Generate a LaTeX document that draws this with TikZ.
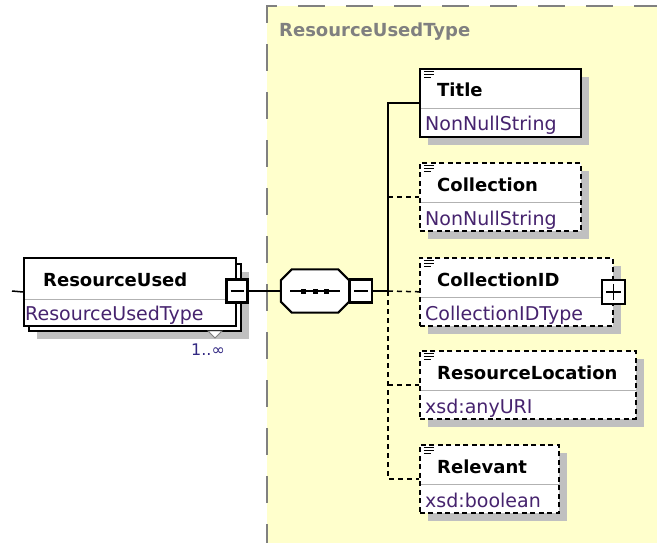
\documentclass[tikz,border=0pt]{standalone}
\usepackage{fontspec}
\setmainfont{DejaVu Sans}
\usetikzlibrary{calc,shadows}
\definecolor{typebg}{RGB}{255,255,204}
\definecolor{shadowgray}{RGB}{192,192,192}
\definecolor{typetext}{RGB}{70,35,110}
\definecolor{occurtext}{RGB}{50,40,130}

\begin{document}
\begin{tikzpicture}[x=1pt,y=-1pt,
  box/.style={draw,line width=2pt,fill=white,anchor=north west,minimum height=68pt,inner sep=0pt},
  shadowed/.style={drop shadow={shadow xshift=8pt,shadow yshift=-8pt,fill=shadowgray,opacity=1}},
  elem/.style={box,shadowed,path picture={
    \draw[solid,gray!60,line width=1pt] ($(path picture bounding box.north west)+(0,40)$) -- ($(path picture bounding box.north east)+(0,40)$);
    \draw[solid,line width=1pt] ($(path picture bounding box.north west)+(4,3)$) -- +(10,0)
      ($(path picture bounding box.north west)+(4,6)$) -- +(10,0)
      ($(path picture bounding box.north west)+(4,9)$) -- +(7,0);}},
  optelem/.style={elem,line width=1.6pt,dash pattern=on 5pt off 3.5pt},
  ename/.style={anchor=base west,inner sep=0pt,font=\fontsize{18}{20}\selectfont\bfseries},
  etype/.style={anchor=base west,inner sep=0pt,text=typetext,font=\fontsize{19}{21}\selectfont},
  conn/.style={line width=1.5pt},
  optconn/.style={conn,dash pattern=on 5pt off 4pt},
  togglebox/.style={draw,fill=white,line width=2.2pt,minimum width=21pt,minimum height=23pt,inner sep=0pt},
  minusbox/.style={togglebox,path picture={
    \draw[line width=1.4pt] ($(path picture bounding box.west)+(4,0)$) -- ($(path picture bounding box.east)+(-4,0)$);}},
  plusbox/.style={togglebox,path picture={
    \draw[line width=1.4pt] ($(path picture bounding box.west)+(4,0)$) -- ($(path picture bounding box.east)+(-4,0)$)
      ($(path picture bounding box.north)+(0,4)$) -- ($(path picture bounding box.south)+(0,-4)$);}},
]
\useasboundingbox (0,0) rectangle (657,543);

% complex type area
\fill[typebg] (267,6) rectangle (657,543);
\draw[gray,line width=2pt,dash pattern=on 27pt off 21pt,dash phase=8pt] (267,543) -- (267,6) -- (657,6);
\node[anchor=base west,inner sep=0pt,text=gray,font=\fontsize{18}{20}\selectfont\bfseries] (typename) at (279,37) {ResourceUsedType};

% repeated element
\node[box,shadowed,minimum width=212pt,minimum height=67pt] (ruback) at (28,263) {};
\filldraw[fill=white,draw=gray,line width=0.8pt] (208,331) -- (222,331) -- (215,338) -- cycle;
\node[box,minimum width=212pt,path picture={
  \draw[gray!60,line width=1pt] ($(path picture bounding box.north west)+(0,41)$) -- ($(path picture bounding box.north east)+(0,41)$);}] (ru) at (23,257) {};
\node[ename] (runame) at ($(ru.north west)+(20,29)$) {ResourceUsed};
\node[etype] (rutype) at ($(ru.north west)+(2,63)$) {ResourceUsedType};
\node[minusbox] (rumin) at (237,291) {};
\node[text=occurtext,font=\fontsize{16}{18}\selectfont] (occurs) at (208,350) {1..∞};

% sequence
\node[minimum width=68pt,minimum height=43pt,inner sep=0pt] (seq) at (315,291) {};
\fill[shadowgray,shift={(8,8)}] ($(seq.north west)+(11,0)$) -- ($(seq.north east)+(-11,0)$) -- ($(seq.north east)+(0,11)$)
  -- ($(seq.south east)+(0,-11)$) -- ($(seq.south east)+(-11,0)$) -- ($(seq.south west)+(11,0)$)
  -- ($(seq.south west)+(0,-11)$) -- ($(seq.north west)+(0,11)$) -- cycle;
\filldraw[fill=white,line width=2pt] ($(seq.north west)+(11,0)$) -- ($(seq.north east)+(-11,0)$) -- ($(seq.north east)+(0,11)$)
  -- ($(seq.south east)+(0,-11)$) -- ($(seq.south east)+(-11,0)$) -- ($(seq.south west)+(11,0)$)
  -- ($(seq.south west)+(0,-11)$) -- ($(seq.north west)+(0,11)$) -- cycle;
\draw[line width=1.4pt] ($(seq.center)+(-25,0)$) -- ($(seq.center)+(25,0)$);
\fill ($(seq.center)+(-14,-2.5)$) rectangle +(5,5);
\fill ($(seq.center)+(-2.5,-2.5)$) rectangle +(5,5);
\fill ($(seq.center)+(9,-2.5)$) rectangle +(5,5);
\node[minusbox,minimum width=22pt] (seqmin) at (361,291) {};

% child elements
\node[elem,minimum width=161pt] (title) at (419,68) {};
\node[ename] (titlename) at ($(title.north west)+(18,29)$) {Title};
\node[etype] (titletype) at ($(title.north west)+(6,63)$) {NonNullString};

\node[optelem,minimum width=161pt] (coll) at (419,162) {};
\node[ename] (collname) at ($(coll.north west)+(18,29)$) {Collection};
\node[etype] (colltype) at ($(coll.north west)+(6,63)$) {NonNullString};

\node[optelem,minimum width=193pt] (cid) at (419,257) {};
\node[ename] (cidname) at ($(cid.north west)+(18,29)$) {CollectionID};
\node[etype] (cidtype) at ($(cid.north west)+(6,63)$) {CollectionIDType};
\node[plusbox,minimum width=23pt,minimum height=24pt] (cidplus) at (cid.east) {};

\node[optelem,minimum width=216pt] (rloc) at (419,350) {};
\node[ename] (rlocname) at ($(rloc.north west)+(18,29)$) {ResourceLocation};
\node[etype] (rloctype) at ($(rloc.north west)+(6,63)$) {xsd:anyURI};

\node[optelem,minimum width=139pt] (rel) at (419,444) {};
\node[ename] (relname) at ($(rel.north west)+(18,29)$) {Relevant};
\node[etype] (reltype) at ($(rel.north west)+(6,63)$) {xsd:boolean};

% connectors
\coordinate (in) at (12,291);
\coordinate (hub) at (388,291);
\draw[conn] (in) -- (ru.west);
\draw[conn] (rumin.east) -- (seq.west);
\draw[conn] (seqmin.east) -- (hub);
\draw[conn] (hub) |- (title.west);
\draw[optconn] (hub |- coll.west) -- (coll.west);
\draw[optconn] (hub) -- (cid.west);
\draw[optconn] (hub) |- (rel.west);
\draw[optconn] (hub |- rloc.west) -- (rloc.west);
\end{tikzpicture}
\end{document}
